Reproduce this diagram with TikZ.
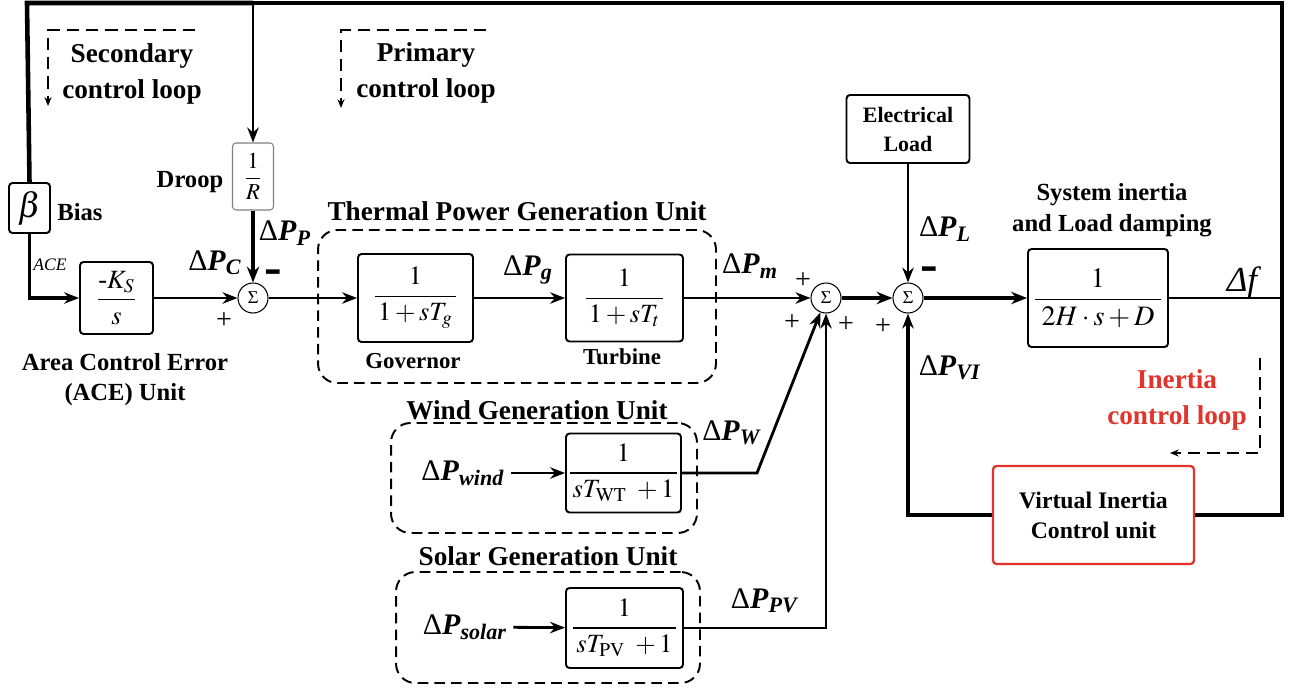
\documentclass[tikz,border=0pt]{standalone}
\usepackage{amsmath}
\usepackage{mathptmx}
\usepackage{fontspec}
\setmainfont{Liberation Serif}
\usetikzlibrary{shapes,arrows.meta,positioning,calc}
\definecolor{vired}{RGB}{224,52,44}
\newcommand{\dP}[1]{Δ\textbf{\textit{P}}\textsubscript{\textbf{\textit{#1}}}}

\begin{document}
\begin{tikzpicture}[x=0.02cm, y=-0.02cm,
    block/.style={draw, line width=1.1pt, rounded corners=2pt, inner sep=0pt, font=\fontsize{15}{18}\selectfont},
    sumnode/.style={draw, circle, line width=0.6pt, minimum size=0.6cm, inner sep=0pt, font=\fontsize{10}{12}\selectfont},
    unit/.style={draw, line width=1.1pt, dash pattern=on 6pt off 3.5pt, rounded corners=11pt, minimum width=1cm, minimum height=1cm},
    line/.style={draw, line width=1.6pt, -{Stealth[length=8.5pt, width=6.5pt]}},
    heavy/.style={draw, line width=2.6pt, -{Stealth[length=9pt, width=7pt]}},
    wire/.style={draw, line width=1.6pt},
    bus/.style={draw, line width=2.6pt},
    loopdash/.style={draw, line width=1.1pt, dash pattern=on 7pt off 4pt, -{Stealth[length=5pt, width=4pt]}},
    lbl/.style={font=\bfseries\fontsize{14}{17}\selectfont, align=center},
    title/.style={font=\bfseries\fontsize{15.5}{20}\selectfont, align=center},
    sig/.style={font=\fontsize{17}{20}\selectfont},
    signmark/.style={font=\fontsize{16}{18}\selectfont},
    negsign/.style={font=\bfseries\fontsize{30}{30}\selectfont, anchor=base, inner sep=0pt}
]
\useasboundingbox (0,0) rectangle (1291,687);

\node[unit, minimum width=7.96cm, minimum height=3.06cm] (thermal) at (517,306.5) {};
\node[unit, minimum width=6.12cm, minimum height=2.2cm] (windunit) at (544,478) {};
\node[unit, minimum width=6.08cm, minimum height=2.22cm] (solarunit) at (548,627.5) {};

\node[block, minimum width=0.82cm, minimum height=1cm, font=\fontsize{20}{24}\selectfont] (beta) at (29.5,208) {$\beta$};
\node[block, minimum width=1.46cm, minimum height=1.44cm] (ks) at (116.5,298) {$\dfrac{\mbox{-}K_S}{s}$};
\node[block, draw=gray, line width=0.6pt, minimum width=0.82cm, minimum height=1.34cm, font=\fontsize{13}{16}\selectfont] (droop) at (253,176.5) {$\dfrac{1}{R}$};
\node[block, minimum width=2.3cm, minimum height=1.76cm] (gov) at (415.5,298) {$\dfrac{1}{\,1+sT_g\,}$};
\node[block, minimum width=2.34cm, minimum height=1.74cm] (tur) at (624.5,298) {$\dfrac{1}{\,1+sT_t\,}$};
\node[block, minimum width=2.46cm, minimum height=1.36cm, font=\bfseries\fontsize{12.5}{16.5}\selectfont, align=center] (load) at (908,129) {Electrical\\Load};
\node[block, minimum width=2.8cm, minimum height=1.96cm, font=\fontsize{16}{19}\selectfont] (sys) at (1098,298) {$\dfrac{1}{\;2H\cdot s+D\;}$};
\node[block, draw=vired, line width=1.3pt, minimum width=4.02cm, minimum height=1.96cm, font=\bfseries\fontsize{13.5}{17}\selectfont, align=center] (vi) at (1093.5,515) {Virtual Inertia\\Control unit};
\node[block, minimum width=2.3cm, minimum height=1.58cm] (wind) at (623.5,473) {$\dfrac{1}{\,sT_{\mathrm{WT}}\ +1\,}$};
\node[block, minimum width=2.34cm, minimum height=1.6cm] (solar) at (624.5,628) {$\dfrac{1}{\,sT_{\mathrm{PV}}\ +1\,}$};

\node[sumnode] (s1) at (253,298) {$\Sigma$};
\node[sumnode] (s2) at (826,298) {$\Sigma$};
\node[sumnode] (s3) at (908,298) {$\Sigma$};

\node[sig] (pwind) at (463,473) {\dP{wind}};
\node[sig] (psolar) at (465,627) {\dP{solar}};

\coordinate (nw) at (27,3);
\coordinate (nd) at (253,3);
\coordinate (ne) at (1282,3);
\coordinate (fout) at (1282,298);
\coordinate (wbend) at (757,473);

\draw[bus] (beta.north) -- (nw) -- (nd);
\draw[bus, line width=2.1pt] (nd) -- (ne) -- (fout);
\draw[line] (nd) -- (droop.north);
\draw[line, line width=2.2pt] (beta.south) |- (ks.west);
\draw[line] (ks) -- (s1);
\draw[heavy] (droop) -- (s1);
\draw[line] (s1) -- (gov);
\draw[line] (gov) -- (tur);
\draw[line] (tur) -- (s2);
\draw[heavy] (s2) -- (s3);
\draw[line] (load) -- (s3);
\draw[heavy] (s3) -- (sys);
\draw[wire] (sys) -- (fout);
\draw[bus] (fout) |- (vi.east);
\draw[line, line width=2.2pt] (vi.west) -| (s3.south);
\draw[line] (pwind) -- (wind);
\draw[line] (psolar) -- (solar);
\draw[line] (wind.east) -- (wbend) -- (s2);
\draw[line] (solar.east) -| (s2.south);

\draw[loopdash] (195,30) -- (48,30) -- (48,106);
\draw[loopdash] (486,30) -- (341,30) -- (341,108);
\draw[loopdash] (1260,358) -- (1260,453) -- (1170,453);

\node[title] at (132,74) {Secondary\\control loop};
\node[title] at (426,73) {Primary\\control loop};
\node[title, text=vired] at (1177,400) {Inertia\\control loop};
\node[lbl] at (80,212) {Bias};
\node[lbl] at (190,182) {Droop};
\node[font=\itshape\fontsize{10}{12}\selectfont] at (50,265) {ACE};
\node[lbl] at (125,380) {Area Control Error\\(ACE) Unit};
\node[title] at (517,211) {Thermal Power Generation Unit};
\node[lbl, font=\bfseries\fontsize{13}{16}\selectfont] at (413,361) {Governor};
\node[lbl, font=\bfseries\fontsize{13}{16}\selectfont] at (622,357) {Turbine};
\node[lbl, font=\bfseries\fontsize{14}{17.5}\selectfont] at (1112,210) {System inertia\\and Load damping};
\node[title] at (537,410) {Wind Generation Unit};
\node[title] at (548,556) {Solar Generation Unit};

\node[sig] at (215,263) {\dP{C}};
\node[sig] at (285,233) {\dP{P}};
\node[sig] at (528,270) {\dP{g}};
\node[sig] at (750,266) {\dP{m}};
\node[sig] at (945,229) {\dP{L}};
\node[sig] at (950,368) {\dP{VI}};
\node[sig] at (732,433) {\dP{W}};
\node[sig] at (765,601) {\dP{PV}};
\node[font=\itshape\fontsize{20}{22}\selectfont] at (1242,283) {Δf};

\node[signmark] at (224,321) {+};
\node[signmark] at (803,281) {+};
\node[signmark] at (792,323) {+};
\node[signmark] at (846,325) {+};
\node[signmark] at (883,327) {+};
\node[negsign] at (273,284) {\smash{-}};
\node[negsign] at (929,281) {\smash{-}};

\end{tikzpicture}
\end{document}
